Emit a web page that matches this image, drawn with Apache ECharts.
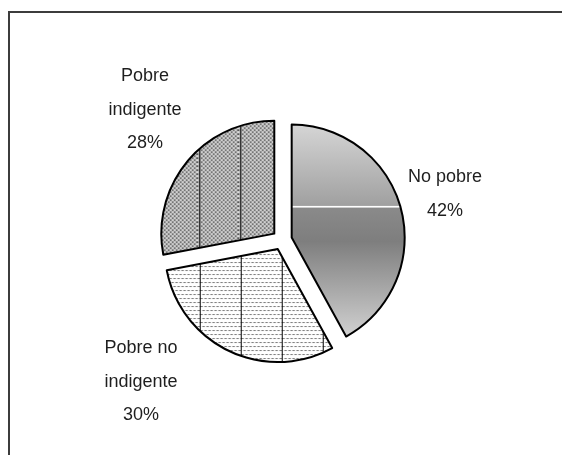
<!DOCTYPE html>
<html>
<head>
<meta charset="utf-8">
<script src="https://cdn.jsdelivr.net/npm/echarts@6/dist/echarts.min.js"></script>
<style>
html,body{margin:0;padding:0;background:#fff;}
#chart{width:562px;height:455px;}
</style>
</head>
<body>
<div id="chart"></div>
<script>
// Data
var categories = ['No pobre', 'Pobre no indigente', 'Pobre indigente'];
var values = [42, 30, 28];
// Label text lines as printed in the chart
var labelNames = ['No pobre', 'Pobre no\nindigente', 'Pobre\nindigente'];

// Label placement (layout, not data)
var labelCenters = [[445, 194], [141, 382], [145, 110]];

function makeTile(kind, lineX) {
  var c = document.createElement('canvas');
  c.width = 41; c.height = 8;
  var ctx = c.getContext('2d');
  if (kind === 'dark') {
    ctx.fillStyle = '#b2b2b2';
    ctx.fillRect(0, 0, 41, 8);
    for (var y = 0; y < 8; y++) {
      for (var x = 0; x < 41; x++) {
        var mx = x % 4, my = y % 4;
        if ((mx === 0 && my === 0) || (mx === 2 && my === 2)) {
          ctx.fillStyle = '#262626'; ctx.fillRect(x, y, 1, 1);
        } else if ((mx === 2 && my === 0) || (mx === 0 && my === 2)) {
          ctx.fillStyle = '#f6f6f6'; ctx.fillRect(x, y, 1, 1);
        }
      }
    }
  } else {
    ctx.fillStyle = '#ffffff';
    ctx.fillRect(0, 0, 41, 8);
    for (var y2 = 0; y2 < 8; y2++) {
      if (y2 % 4 !== 1) continue;
      var shift = (y2 === 5) ? 2 : 0;
      for (var x2 = 0; x2 < 41; x2++) {
        var m = (x2 + shift) % 4;
        if (m === 0 || m === 1) { ctx.fillStyle = '#7c7c7c'; ctx.fillRect(x2, y2, 1, 1); }
        else if (m === 3) { ctx.fillStyle = '#c4c4c4'; ctx.fillRect(x2, y2, 1, 1); }
      }
    }
  }
  ctx.fillStyle = '#000000';
  ctx.fillRect(lineX, 0, 1, 8);
  return c;
}

var noPobreGradient = new echarts.graphic.LinearGradient(0, 0, 0, 1, [
  { offset: 0, color: '#d6d6d6' },
  { offset: 0.383, color: '#a0a0a0' },
  { offset: 0.384, color: '#ffffff' },
  { offset: 0.392, color: '#ffffff' },
  { offset: 0.393, color: '#8a8a8a' },
  { offset: 0.55, color: '#7e7e7e' },
  { offset: 1, color: '#d2d2d2' }
]);

var fills = [
  noPobreGradient,
  { image: makeTile('light', 40), repeat: 'repeat' },
  { image: makeTile('dark', 2), repeat: 'repeat' }
];

var pieData = categories.map(function (name, i) {
  return {
    name: name,
    value: values[i],
    selected: true,
    itemStyle: { color: fills[i] }
  };
});

var labelGraphics = categories.map(function (name, i) {
  return {
    type: 'text',
    silent: true,
    style: {
      text: labelNames[i] + '\n' + values[i] + '%',
      x: labelCenters[i][0],
      y: labelCenters[i][1],
      align: 'center',
      verticalAlign: 'middle',
      fontFamily: 'Liberation Sans, Arial, sans-serif',
      fontSize: 18,
      lineHeight: 33.5,
      fill: '#1e1e1e'
    }
  };
});

var chart = echarts.init(document.getElementById('chart'), null, { renderer: 'canvas' });
chart.setOption({
  animation: false,
  backgroundColor: '#ffffff',
  graphic: [{
    type: 'rect',
    shape: { x: 9, y: 12, width: 700, height: 600 },
    style: { fill: 'none', stroke: '#3c3c3c', lineWidth: 2 },
    silent: true
  }].concat(labelGraphics),
  series: [{
    type: 'pie',
    center: [282, 240],
    radius: 113,
    startAngle: 90,
    clockwise: true,
    selectedMode: 'multiple',
    selectedOffset: 10,
    avoidLabelOverlap: false,
    emphasis: { disabled: true },
    select: { itemStyle: { borderColor: '#000', borderWidth: 2 } },
    itemStyle: { borderColor: '#000000', borderWidth: 2 },
    label: { show: false },
    labelLine: { show: false },
    data: pieData
  }]
});
</script>
</body>
</html>
